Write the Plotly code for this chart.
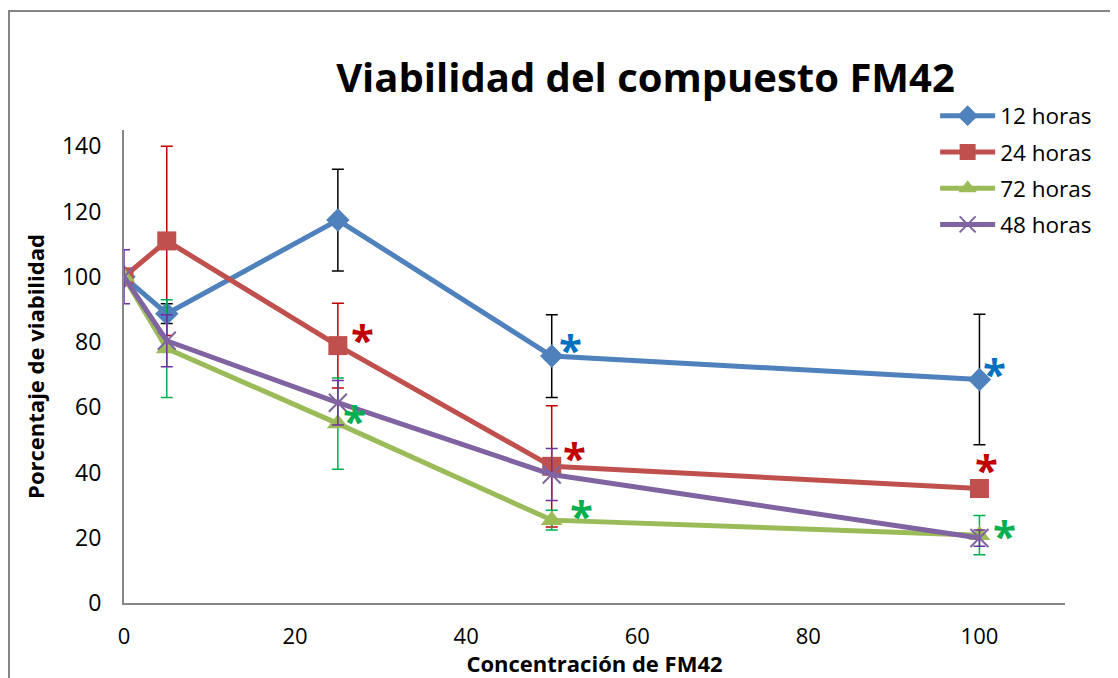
import plotly.graph_objects as go

conc = [0, 5, 25, 50, 100]

series_names = ["12 horas", "24 horas", "72 horas", "48 horas"]
v12 = [100, 88.7, 117.4, 75.7, 68.5]
e12 = [0, 3, 15.6, 12.7, 20]
v24 = [100, 111, 78.9, 41.9, 35.1]
e24 = [0, 29, 13, 18.6, 1.5]
v72 = [100, 78, 55, 25.4, 20.8]
e72 = [0, 15, 14, 3, 6]
v48 = [100, 80.4, 61.4, 39.4, 19.9]
e48 = [8.3, 8, 6.8, 8, 2.5]

line_colors = ["#4F81BD", "#C0504D", "#9BBB59", "#8064A2"]
err_colors = ["#000000", "#C00000", "#00B050", "#7030A0"]
symbols = ["diamond", "square", "triangle-up", "x-thin"]
marker_sizes = [18, 19, 19, 18]

# significance asterisks
ast_x = [52.25, 101.7, 27.9, 52.7, 100.8, 27.0, 53.5, 102.9]
ast_y = [79.7, 72.3, 82.5, 46.3, 42.9, 57.9, 28.8, 22.4]
ast_c = ["#0070C0", "#0070C0", "#C00000", "#C00000", "#C00000", "#00B050", "#00B050", "#00B050"]

values = [v12, v24, v72, v48]
errors = [e12, e24, e72, e48]

FONT = "Open Sans"

fig = go.Figure()
for i, name in enumerate(series_names):
    marker = dict(symbol=symbols[i], size=marker_sizes[i], color=line_colors[i])
    if symbols[i] == "x-thin":
        marker = dict(symbol="x-thin", size=marker_sizes[i], color=line_colors[i],
                      line=dict(color=line_colors[i], width=2))
    fig.add_trace(go.Scatter(
        x=conc, y=values[i], name=name, mode="lines+markers",
        legendgroup=name,
        line=dict(color=line_colors[i], width=5),
        marker=marker,
        error_y=dict(type="data", array=errors[i], visible=True,
                     color=err_colors[i], thickness=1.5, width=6),
    ))

for x, y, c in zip(ast_x, ast_y, ast_c):
    fig.add_annotation(x=x, y=y, text="<b>*</b>", showarrow=False,
                       font=dict(family=FONT, size=42, color=c),
                       xanchor="center", yanchor="middle", yshift=-5)

# outer chart border
fig.add_shape(type="rect", xref="paper", yref="paper",
              x0=-0.1222, x1=1.2, y0=-0.3, y1=1.2516,
              line=dict(color="#868686", width=2), fillcolor="rgba(0,0,0,0)",
              layer="below")

fig.update_layout(
    width=1110, height=670,
    margin=dict(l=116, r=53, t=122, b=75, autoexpand=False),
    paper_bgcolor="white", plot_bgcolor="white",
    font=dict(family=FONT, size=23, color="black"),
    title=dict(text="<b>Viabilidad del compuesto FM42</b>",
               font=dict(family=FONT, size=40, color="black"),
               x=0.5743, xanchor="center", y=0.8955, yanchor="middle"),
    showlegend=True,
    legend=dict(x=0.862, y=1.075, xanchor="left", yanchor="top",
                bgcolor="rgba(0,0,0,0)", font=dict(size=22.5),
                traceorder="grouped", tracegroupgap=4, itemwidth=55),
    xaxis=dict(range=[0, 110], tickvals=[0, 20, 40, 60, 80, 100],
               showgrid=False, zeroline=False, showline=True,
               linecolor="#868686", linewidth=2, ticks="",
               automargin=False,
               tickfont=dict(size=22), ticklabelstandoff=13,
               title=dict(text="<b>Concentración de FM42</b>",
                          font=dict(size=22), standoff=2)),
    yaxis=dict(range=[0, 145], tickvals=[0, 20, 40, 60, 80, 100, 120, 140],
               showgrid=False, zeroline=False, showline=True,
               linecolor="#868686", linewidth=2, ticks="",
               automargin=False,
               tickfont=dict(size=23), ticklabelstandoff=16,
               title=dict(text="<b>Porcentaje de viabilidad</b>",
                          font=dict(size=22), standoff=11)),
)

fig.write_html("out.html")
